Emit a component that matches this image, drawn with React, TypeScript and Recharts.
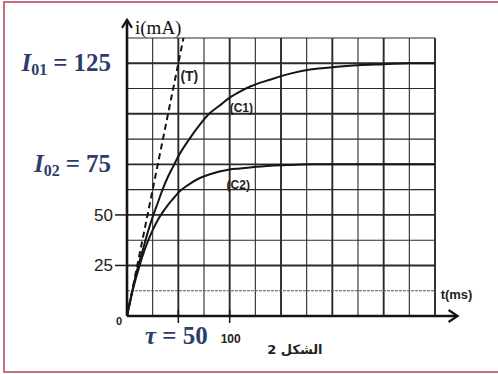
import { LineChart, Line, XAxis, YAxis, ReferenceLine, ReferenceDot } from 'recharts';

// time axis (ms) and the two charging currents (mA) read along it
const times = [0, 5, 10, 15, 20, 25, 30, 35, 40, 45, 50, 60, 70, 80, 90, 100, 110, 120, 140, 160, 180, 200, 225, 250, 275, 300];
const c1Current = [0, 12, 23, 32, 41, 49, 56, 63, 69, 74, 79, 87, 94, 100, 104, 108, 111, 113.5, 117, 120, 122, 123, 124, 124.5, 125, 125];
const c2Current = [0, 11.5, 21, 29.5, 36.5, 42.5, 47.5, 51.5, 55, 58, 61, 65, 68, 70, 71.5, 72.5, 73, 73.5, 74.3, 74.7, 75, 75, 75, 75, 75, 75];

// tangent (T) at the origin
const tangentTimes = [0, 55];
const tangentCurrent = [0, 137.5];

// graph paper: one square = 25 ms by 12.5 mA
const gridTimes = [25, 50, 75, 100, 125, 150, 175, 200, 225, 250, 275, 300];
const gridCurrents = [12.5, 25, 37.5, 50, 62.5, 75, 87.5, 100, 112.5, 125, 137.5];

const yTicks = [25, 50, 75, 125];
const xTicks = [0, 50, 100];

const curveData = times.map((t, k) => ({ t, c1: c1Current[k], c2: c2Current[k] }));
const tangentData = tangentTimes.map((t, k) => ({ t, tan: tangentCurrent[k] }));

const NAVY = '#2c3d6b';
const INK = '#151515';

function CurrentTick(props: any) {
  const { y, payload } = props;
  const v = payload.value;
  if (v === 125 || v === 75) {
    const sub = v === 125 ? '01' : '02';
    return (
      <text
        x={111}
        y={y + 8}
        textAnchor="end"
        fill={NAVY}
        fontFamily="'Liberation Serif', serif"
        fontWeight="bold"
        fontSize={25}
      >
        <tspan fontStyle="italic">I</tspan>
        <tspan fontSize={16} dy={4}>{sub}</tspan>
        <tspan dy={-4} dx={6}>=</tspan>
        <tspan dx={6}>{v}</tspan>
      </text>
    );
  }
  return (
    <g>
      <line x1={115} x2={127} y1={y} y2={y} stroke={INK} strokeWidth={1.5} />
      <text x={113} y={y + 6} textAnchor="end" fontFamily="'Liberation Sans', Arial, sans-serif" fontSize={17} fill="#222">
        {v}
      </text>
    </g>
  );
}

function TimeTick(props: any) {
  const { x, payload } = props;
  const v = payload.value;
  if (v === 0) {
    return (
      <text x={x - 5} y={325} textAnchor="end" fontFamily="'Liberation Sans', Arial, sans-serif" fontWeight="bold" fontSize={11} fill="#222">
        0
      </text>
    );
  }
  return (
    <g>
      <line x1={x} x2={x} y1={310} y2={323} stroke={INK} strokeWidth={1.5} />
      {v === 50 ? (
        <text x={x - 2} y={344} textAnchor="middle" fill={NAVY} fontFamily="'Liberation Serif', serif" fontWeight="bold" fontSize={25}>
          <tspan fontStyle="italic">τ</tspan> = 50
        </text>
      ) : (
        <text x={x + 1} y={343} textAnchor="middle" fontFamily="'Liberation Sans', Arial, sans-serif" fontWeight="bold" fontSize={12} fill="#222">
          {v}
        </text>
      )}
    </g>
  );
}

const textShape = (label: string, opts: any = {}) => (p: any) => (
  <text
    x={p.cx}
    y={p.cy}
    fontFamily={opts.family ?? "'Liberation Sans Narrow', 'Liberation Sans', Arial, sans-serif"}
    fontWeight={opts.weight ?? 'bold'}
    fontSize={opts.size ?? 13}
    textAnchor={opts.anchor ?? 'start'}
    fill={opts.fill ?? '#222'}
  >
    {label}
  </text>
);

const arrowUp = (p: any) => (
  <path d={`M${p.cx - 5},${p.cy + 8} L${p.cx},${p.cy} L${p.cx + 5},${p.cy + 8}`} fill="none" stroke={INK} strokeWidth={2.2} />
);
const arrowRight = (p: any) => (
  <path d={`M${p.cx - 9},${p.cy - 6} L${p.cx},${p.cy} L${p.cx - 9},${p.cy + 6}`} fill="none" stroke={INK} strokeWidth={2.2} />
);

export default function App() {
  return (
    <div style={{ position: 'fixed', left: 0, top: 0, width: 498, height: 374, overflow: 'hidden', background: '#fff' }}>
      <div
        style={{
          position: 'absolute',
          left: 3,
          top: 1,
          width: 600,
          height: 372,
          boxSizing: 'border-box',
          border: '2px solid #c76f7e',
        }}
      />
      <div style={{ position: 'absolute', left: 0, top: 0 }}>
        <LineChart width={498} height={374} data={curveData} margin={{ top: 38, right: 63, bottom: 0, left: 0 }}>
          <XAxis
            type="number"
            dataKey="t"
            domain={[0, 300]}
            ticks={xTicks}
            interval={0}
            height={58}
            axisLine={false}
            tickLine={false}
            tick={TimeTick}
            allowDataOverflow
          />
          <YAxis
            type="number"
            domain={[0, 137.5]}
            ticks={yTicks}
            interval={0}
            width={127}
            axisLine={false}
            tickLine={false}
            tick={CurrentTick}
            allowDataOverflow
          />

          {gridTimes.map((t) => (
            <ReferenceLine
              key={`gx${t}`}
              x={t}
              stroke="#2a2a2a"
              strokeWidth={t % 50 === 0 ? 1.9 : 1.1}
            />
          ))}
          {gridCurrents.map((v) => (
            <ReferenceLine
              key={`gy${v}`}
              y={v}
              stroke={v === 12.5 ? '#555' : '#2a2a2a'}
              strokeDasharray={v === 12.5 ? '3 1' : undefined}
              strokeWidth={v % 25 === 0 ? 1.9 : 1.1}
            />
          ))}

          {/* axes with arrows */}
          <ReferenceLine segment={[{ x: 0, y: 0 }, { x: 0, y: 146.5 }]} ifOverflow="visible" stroke={INK} strokeWidth={2.6} />
          <ReferenceLine segment={[{ x: 0, y: 0 }, { x: 322, y: 0 }]} ifOverflow="visible" stroke={INK} strokeWidth={2.6} />
          <ReferenceDot x={0} y={146.5} ifOverflow="visible" shape={arrowUp} />
          <ReferenceDot x={322} y={0} ifOverflow="visible" shape={arrowRight} />

          <Line type="monotone" dataKey="c1" stroke={INK} strokeWidth={2} dot={false} isAnimationActive={false} />
          <Line type="monotone" dataKey="c2" stroke={INK} strokeWidth={2} dot={false} isAnimationActive={false} />
          <Line
            data={tangentData}
            type="linear"
            dataKey="tan"
            stroke={INK}
            strokeWidth={2}
            strokeDasharray="6 4"
            dot={false}
            isAnimationActive={false}
          />

          <ReferenceDot x={52} y={116} ifOverflow="visible" shape={textShape('(T)', { size: 14 })} />
          <ReferenceDot x={100} y={101} ifOverflow="visible" shape={textShape('(C1)', { size: 12 })} />
          <ReferenceDot x={97} y={63} ifOverflow="visible" shape={textShape('(C2)', { size: 12 })} />
          <ReferenceDot
            x={7.8}
            y={139.5}
            ifOverflow="visible"
            shape={textShape('i(mA)', { family: "'Liberation Serif', serif", weight: 'normal', size: 19, fill: '#111' })}
          />
          <ReferenceDot x={305.5} y={8.4} ifOverflow="visible" shape={textShape('t(ms)', { size: 13 })} />
          <ReferenceDot
            x={163.5}
            y={-19}
            ifOverflow="visible"
            shape={textShape('2 الشكل', { size: 13, anchor: 'middle', family: "'DejaVu Sans', sans-serif" })}
          />
        </LineChart>
      </div>
    </div>
  );
}
